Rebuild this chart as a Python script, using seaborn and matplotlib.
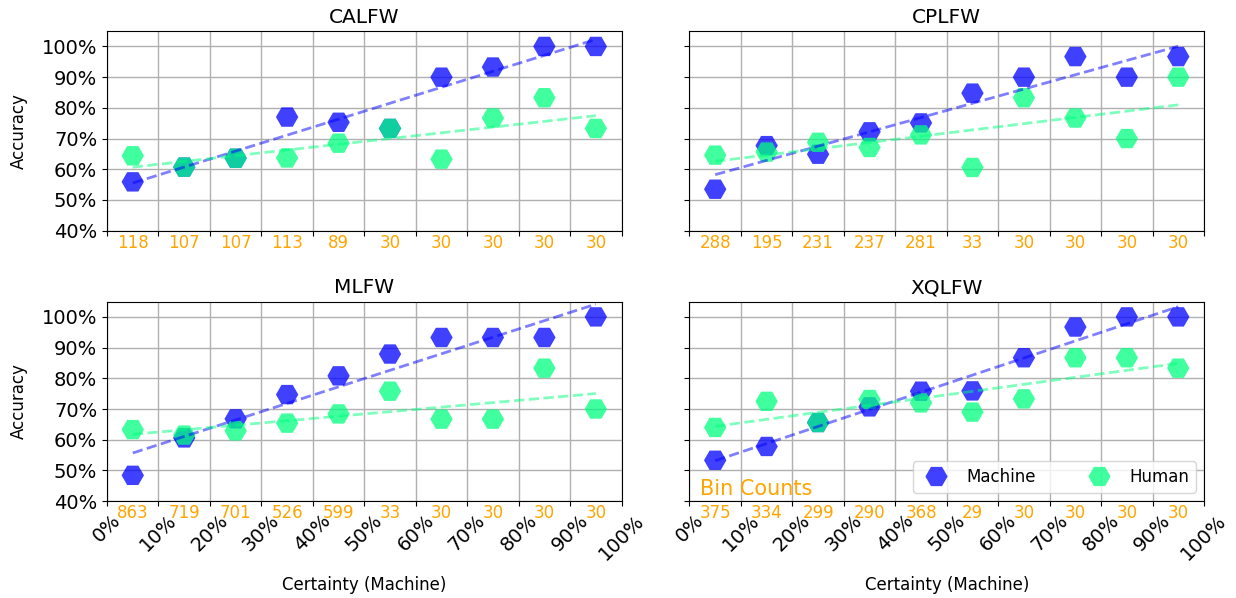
import matplotlib
matplotlib.use('Agg')
import matplotlib.pyplot as plt
import matplotlib.transforms as mtransforms
from matplotlib.lines import Line2D
from matplotlib.ticker import PercentFormatter
import numpy as np
import pandas as pd
import seaborn as sns

datasets = ['CALFW', 'CPLFW', 'MLFW', 'XQLFW']
bin_centers = [0.05, 0.15, 0.25, 0.35, 0.45, 0.55, 0.65, 0.75, 0.85, 0.95]

calfw_machine = [0.559, 0.607, 0.636, 0.770, 0.753, 0.733, 0.900, 0.933, 1.000, 1.000]
calfw_human = [0.644, 0.607, 0.636, 0.637, 0.685, 0.733, 0.633, 0.767, 0.833, 0.733]
calfw_counts = [118, 107, 107, 113, 89, 30, 30, 30, 30, 30]

cplfw_machine = [0.535, 0.677, 0.649, 0.722, 0.751, 0.848, 0.900, 0.967, 0.900, 0.967]
cplfw_human = [0.646, 0.656, 0.688, 0.671, 0.712, 0.606, 0.833, 0.767, 0.700, 0.900]
cplfw_counts = [288, 195, 231, 237, 281, 33, 30, 30, 30, 30]

mlfw_machine = [0.484, 0.606, 0.668, 0.747, 0.808, 0.879, 0.933, 0.933, 0.933, 1.000]
mlfw_human = [0.633, 0.615, 0.629, 0.654, 0.684, 0.758, 0.667, 0.667, 0.833, 0.700]
mlfw_counts = [863, 719, 701, 526, 599, 33, 30, 30, 30, 30]

xqlfw_machine = [0.533, 0.578, 0.656, 0.707, 0.758, 0.759, 0.867, 0.967, 1.000, 1.000]
xqlfw_human = [0.640, 0.725, 0.656, 0.731, 0.720, 0.690, 0.733, 0.867, 0.867, 0.833]
xqlfw_counts = [375, 334, 299, 290, 368, 29, 30, 30, 30, 30]

machine = [calfw_machine, cplfw_machine, mlfw_machine, xqlfw_machine]
human = [calfw_human, cplfw_human, mlfw_human, xqlfw_human]
counts = [calfw_counts, cplfw_counts, mlfw_counts, xqlfw_counts]

colors = {'Machine': '#0000ff', 'Human': '#00ff7f'}

fig, axes = plt.subplots(2, 2, figsize=(12.36, 5.98), dpi=100, sharex=True, sharey=True)
fig.subplots_adjust(left=0.0866, right=0.9741, top=0.948, bottom=0.162,
                    wspace=0.132, hspace=0.355)
axes = [axes[i, j] for i in range(2) for j in range(2)]

for i, name in enumerate(datasets):
    ax = axes[i]
    df = pd.DataFrame({
        'certainty': bin_centers * 2,
        'accuracy': machine[i] + human[i],
        'source': ['Machine'] * 10 + ['Human'] * 10,
    })
    ax.set_axisbelow(True)
    ax.grid(True, color='#b0b0b0', lw=1.0)
    sns.scatterplot(data=df, x='certainty', y='accuracy', hue='source',
                    palette=colors, marker='H', s=260, alpha=0.75,
                    linewidth=0, legend=False, ax=ax)
    for src in ['Machine', 'Human']:
        sub = df[df['source'] == src]
        sns.regplot(data=sub, x='certainty', y='accuracy', scatter=False,
                    ci=None, color=colors[src], ax=ax,
                    line_kws=dict(ls='--', lw=2, alpha=0.5))

    trans = mtransforms.blended_transform_factory(ax.transData, ax.transAxes)
    for x, c in zip(bin_centers, counts[i]):
        ax.text(x, -0.062, str(c), transform=trans, ha='center', va='center',
                color='orange', fontsize=12)

    ax.set_title(name, fontsize=14.5)
    ax.set_xlim(0, 1)
    ax.set_ylim(0.4, 1.05)
    ax.set_xticks(np.arange(0, 1.01, 0.1))
    ax.set_yticks(np.arange(0.4, 1.01, 0.1))
    ax.xaxis.set_major_formatter(PercentFormatter(1.0, decimals=0))
    ax.yaxis.set_major_formatter(PercentFormatter(1.0, decimals=0))
    ax.tick_params(labelsize=14)
    ax.set_xlabel('Certainty (Machine)' if i >= 2 else '', fontsize=12, labelpad=9)
    ax.set_ylabel('Accuracy' if i % 2 == 0 else '', fontsize=12, labelpad=10)
    if i >= 2:
        for lbl in ax.get_xticklabels():
            lbl.set_rotation(45)

ax = axes[3]
ax.text(0.02, 0.01, 'Bin Counts', transform=ax.transAxes, ha='left',
        va='bottom', color='orange', fontsize=15)
handles = [Line2D([], [], ls='', marker='H', markersize=16, alpha=0.75,
                  markeredgewidth=0, color=colors[k]) for k in ['Machine', 'Human']]
ax.legend(handles, ['Machine', 'Human'], loc='lower right', ncol=2, fontsize=12,
          columnspacing=2.8)

fig.savefig('out.png', dpi=100)
